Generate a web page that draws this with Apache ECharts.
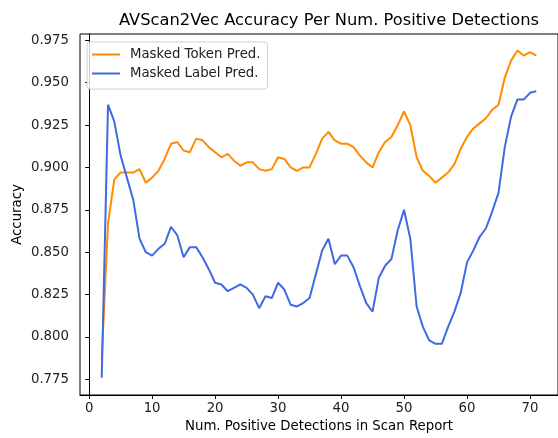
<!DOCTYPE html>
<html>
<head>
<meta charset="utf-8">
<script src="https://cdn.jsdelivr.net/npm/echarts@6/dist/echarts.min.js"></script>
<style>
  html, body { margin: 0; padding: 0; background: #fff; }
  #chart { width: 558px; height: 438px; }
</style>
</head>
<body>
<div id="chart"></div>
<script>
// number of positive detections (x)
var detections = [];
for (var d = 2; d <= 71; d++) detections.push(d);

var tokenAcc = [
  0.787, 0.867, 0.893, 0.897, 0.897, 0.897, 0.899, 0.891, 0.894, 0.898,
  0.905, 0.914, 0.915, 0.910, 0.909, 0.917, 0.916, 0.912, 0.909, 0.906,
  0.908, 0.904, 0.901, 0.903, 0.903, 0.899, 0.898, 0.899, 0.906, 0.905,
  0.900, 0.898, 0.900, 0.900, 0.908, 0.917, 0.921, 0.916, 0.914, 0.914,
  0.912, 0.907, 0.903, 0.900, 0.909, 0.915, 0.918, 0.925, 0.933, 0.925,
  0.906, 0.898, 0.895, 0.891, 0.894, 0.897, 0.902, 0.911, 0.918, 0.923,
  0.926, 0.929, 0.934, 0.937, 0.953, 0.963, 0.969, 0.966, 0.968, 0.966
];

var labelAcc = [
  0.776, 0.937, 0.927, 0.907, 0.894, 0.881, 0.858, 0.850, 0.848, 0.852,
  0.855, 0.865, 0.860, 0.847, 0.853, 0.853, 0.847, 0.840, 0.832, 0.831,
  0.827, 0.829, 0.831, 0.829, 0.825, 0.817, 0.824, 0.823, 0.832, 0.828,
  0.819, 0.818, 0.820, 0.823, 0.837, 0.851, 0.858, 0.843, 0.848, 0.848,
  0.841, 0.830, 0.820, 0.815, 0.835, 0.842, 0.846, 0.863, 0.875, 0.858,
  0.818, 0.806, 0.798, 0.796, 0.796, 0.806, 0.815, 0.826, 0.844, 0.851,
  0.859, 0.864, 0.874, 0.885, 0.912, 0.930, 0.940, 0.940, 0.944, 0.945
];

var xTicks = [0, 10, 20, 30, 40, 50, 60, 70];
var yTicks = [0.775, 0.800, 0.825, 0.850, 0.875, 0.900, 0.925, 0.950, 0.975];

var font = 'DejaVu Sans';
var fs = 13.3;

var chartDom = document.getElementById('chart');
var myChart = echarts.init(chartDom);

function pairs(ys) {
  return detections.map(function (x, i) { return [x, ys[i]]; });
}

var option = {
  animation: false,
  title: {
    text: 'AVScan2Vec Accuracy Per Num. Positive Detections',
    left: 324,
    textAlign: 'center',
    top: 8,
    textStyle: { fontFamily: font, fontSize: 16.3, fontWeight: 'normal', color: '#000' }
  },
  legend: {
    orient: 'vertical',
    left: 87,
    top: 42,
    icon: 'rect',
    itemWidth: 28,
    itemHeight: 2,
    itemGap: 6,
    padding: [6, 7, 9, 5],
    borderColor: '#d0d0d0',
    borderWidth: 1,
    borderRadius: 3,
    backgroundColor: 'rgba(255,255,255,0.8)',
    textStyle: { fontFamily: font, fontSize: fs, color: '#222', padding: [0, 0, 0, 5] },
    data: ['Masked Token Pred.', 'Masked Label Pred.']
  },
  grid: {
    left: 80,
    top: 34,
    width: 488,
    bottom: 41,
    show: true,
    borderColor: '#000',
    borderWidth: 1
  },
  xAxis: {
    type: 'value',
    min: -1.45,
    max: 74.45,
    name: 'Num. Positive Detections in Scan Report',
    nameLocation: 'middle',
    nameGap: 25,
    nameTextStyle: { fontFamily: font, fontSize: fs, color: '#000' },
    axisLine: { lineStyle: { color: '#000' } },
    axisTick: { show: true, length: 4, customValues: xTicks, lineStyle: { color: '#000' } },
    axisLabel: { customValues: xTicks, margin: 7, fontFamily: font, fontSize: fs, color: '#222' },
    splitLine: { show: false }
  },
  yAxis: {
    type: 'value',
    min: 0.7658,
    max: 0.9787,
    name: 'Accuracy',
    nameLocation: 'middle',
    nameGap: 56,
    nameMoveOverlap: false,
    nameTextStyle: { fontFamily: font, fontSize: fs, color: '#000' },
    axisLine: { show: true, lineStyle: { color: '#000' } },
    axisTick: { show: true, length: 4, customValues: yTicks, lineStyle: { color: '#000' } },
    axisLabel: {
      customValues: yTicks, margin: 11, fontFamily: font, fontSize: fs, color: '#222',
      formatter: function (v) { return v.toFixed(3); }
    },
    splitLine: { show: false }
  },
  series: [
    {
      name: 'Masked Token Pred.',
      type: 'line',
      data: pairs(tokenAcc),
      symbol: 'none',
      lineStyle: { color: '#FF8C00', width: 2 },
      itemStyle: { color: '#FF8C00' }
    },
    {
      name: 'Masked Label Pred.',
      type: 'line',
      data: pairs(labelAcc),
      symbol: 'none',
      lineStyle: { color: '#4169E1', width: 2 },
      itemStyle: { color: '#4169E1' }
    }
  ]
};

myChart.setOption(option);
</script>
</body>
</html>
